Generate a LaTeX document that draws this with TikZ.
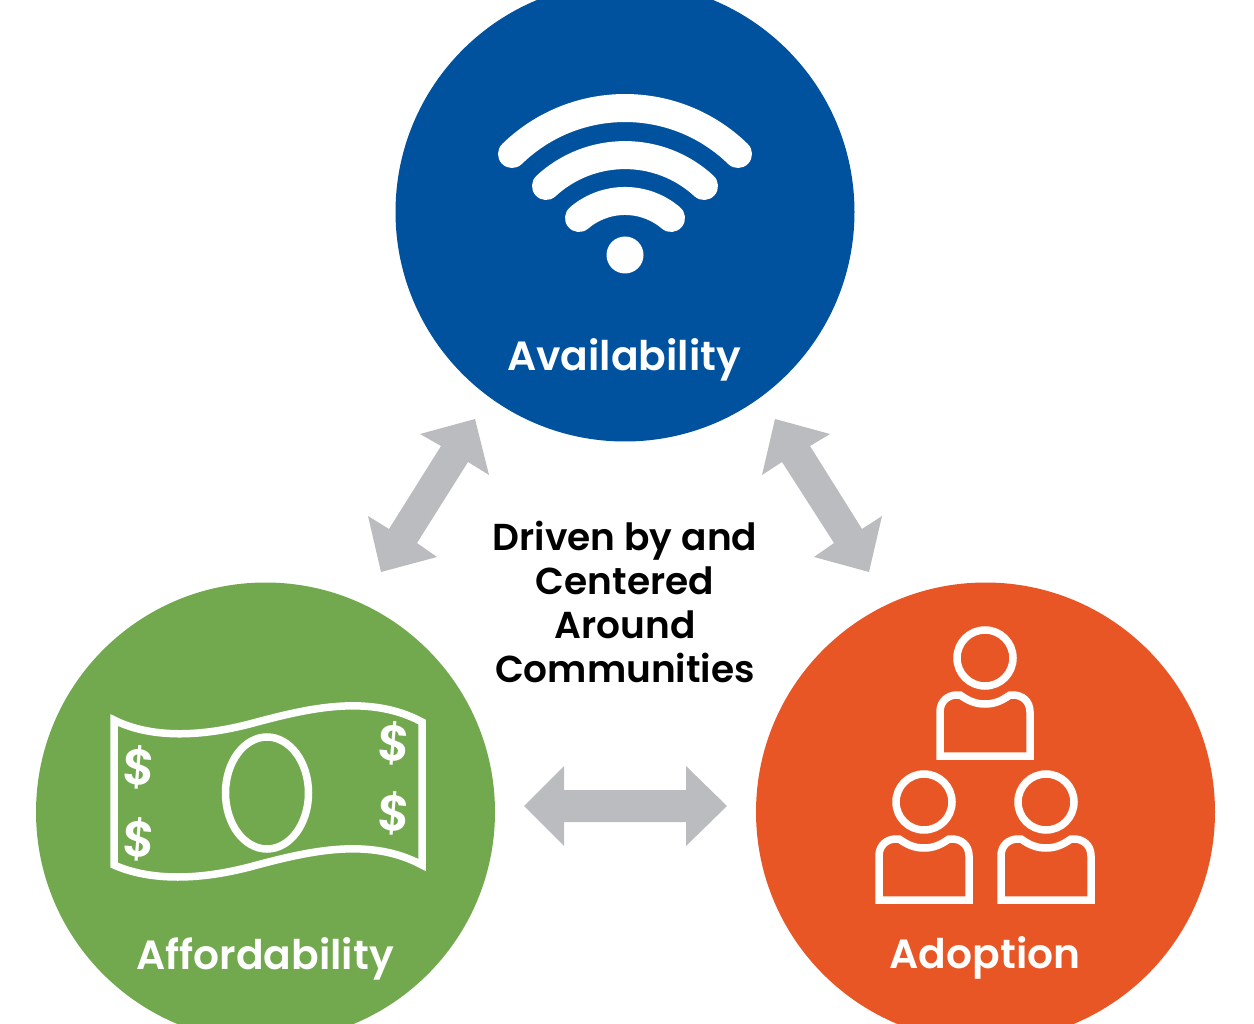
\documentclass[tikz,border=0pt]{standalone}
\usepackage{fontspec}
\setmainfont{Poppins}[BoldFont={Poppins SemiBold}]
\definecolor{bluec}{HTML}{00529F}
\definecolor{greenc}{HTML}{72A94F}
\definecolor{orangec}{HTML}{E95625}
\definecolor{greyc}{HTML}{BBBCBF}
\tikzset{
  disc/.style={circle,minimum size=459pt,inner sep=0pt,text=white},
  disclabel/.style={text=white,font=\fontsize{40.8}{40.8}\selectfont\bfseries,inner sep=0pt,anchor=center},
  centertext/.style={text=black,font=\fontsize{37.5}{44}\selectfont\bfseries,align=center,inner sep=0pt},
  dollar/.style={text=white,font=\fontsize{50}{50}\selectfont\bfseries,inner sep=0pt},
  biarrow/.style={fill=greyc,draw=none},
  wave/.style={draw=white,line width=28pt,line cap=round},
  outline/.style={draw=white,line width=7.5pt,miter limit=10},
  person/.pic={
    \draw[outline] (0,0) circle[radius=28];
    \draw[outline] (-45,98) -- (-45,54) .. controls (-45,43) and (-37,37) .. (-28,37) -- (-25,37)
      .. controls (-15,44) and (-8,46) .. (0,46) .. controls (8,46) and (15,44) .. (25,37) -- (28,37)
      .. controls (37,37) and (45,43) .. (45,54) -- (45,98) -- cycle;
  }
}
\begin{document}
\begin{tikzpicture}[x=1pt,y=-1pt]
\useasboundingbox (0,0) rectangle (1254,1024);
\clip (0,0) rectangle (1254,1024);
\node[disc,fill=bluec] (top) at (625,212) {};
\node[disc,fill=greenc] (left) at (265.5,812) {};
\node[disc,fill=orangec] (right) at (985.5,812) {};
% wifi
\draw[wave] (512,154) .. controls (575,92.7) and (675,92.7) .. (738,154);
\draw[wave] (546,186) .. controls (590.6,144.8) and (659.4,144.8) .. (704,186);
\draw[wave] (579,218) .. controls (605.5,195.3) and (644.5,195.3) .. (671,218);
\fill[white] (625,255) circle[radius=18.5];
% labels
\node[disclabel] (lavail) at (624,360) {Availability};
\node[disclabel] (lafford) at (265,959) {Affordability};
\node[disclabel] (ladopt) at (985,958) {Adoption};
\node[centertext] (center) at (625,602) {Driven by and\\Centered\\Around\\Communities};
% arrows
\fill[biarrow] (524,806) -- (564,766) -- (564,790) -- (686,790) -- (686,766) -- (727,806) -- (686,846) -- (686,822) -- (564,822) -- (564,846) -- cycle;
\fill[biarrow] (420,434) -- (475,419) -- (489,475) -- (468,462) -- (417,543) -- (437,557) -- (381,572) -- (368,516) -- (389,529) -- (441,446) -- cycle;
\fill[biarrow] (830,434) -- (775,419) -- (762,475) -- (782,462) -- (834,543) -- (814,557) -- (869,572) -- (882,516) -- (862,529) -- (810,446) -- cycle;
% banknote
\draw[outline] (114,720) .. controls (150,738) and (200,738) .. (257,722)
  .. controls (310,708) and (370,694) .. (422,722) -- (422,865)
  .. controls (370,837) and (310,851) .. (257,865)
  .. controls (200,881) and (150,881) .. (114,865) -- cycle;
\draw[outline] (267,793) ellipse[x radius=41.5,y radius=56];
\node[dollar,rotate=-5] (d1) at (139.5,767) {\$};
\node[dollar,rotate=-5] (d2) at (139.5,839) {\$};
\node[dollar,rotate=-5] (d3) at (394.5,743) {\$};
\node[dollar,rotate=-5] (d4) at (394.5,813) {\$};
% people
\pic at (985,658) {person};
\pic at (924,802) {person};
\pic at (1046,802) {person};
\end{tikzpicture}
\end{document}
